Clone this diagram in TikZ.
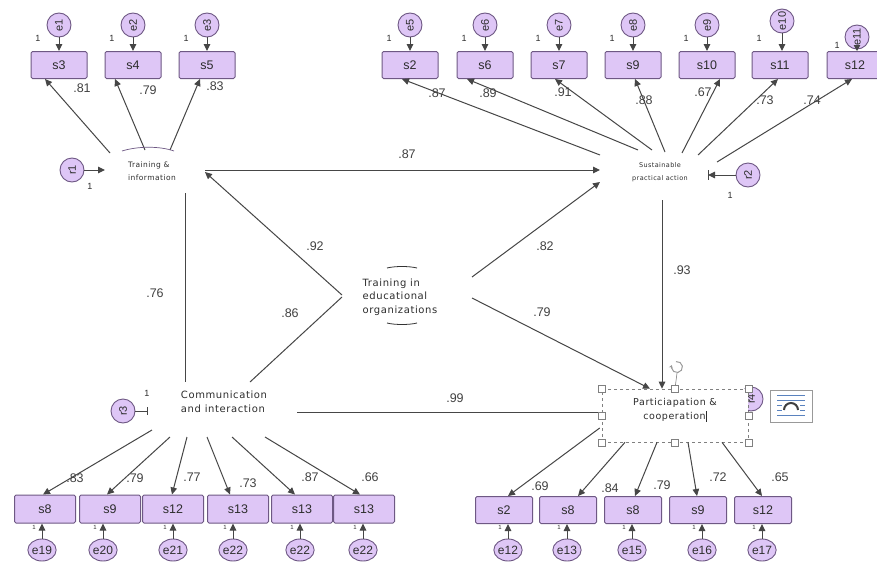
\documentclass[tikz,border=0pt]{standalone}
\usepackage{fontspec}
\usepackage{graphicx}
\setmainfont{Liberation Sans}
\newfontfamily\latfont[LetterSpace=6]{DejaVu Sans}
\usetikzlibrary{arrows.meta,calc,shapes.geometric}
\definecolor{boxfill}{RGB}{222,198,246}
\definecolor{boxline}{RGB}{110,88,132}
\definecolor{lin}{RGB}{70,70,70}
\definecolor{txt}{RGB}{45,45,45}
\definecolor{iconblue}{RGB}{90,130,190}
\begin{document}
\begin{tikzpicture}[x=1pt,y=-1pt,
 obs/.style={draw=boxline, fill=boxfill, line width=1pt, rounded corners=1.5pt, minimum width=56pt, minimum height=27pt, inner sep=0pt, font=\fontsize{12.5}{12.5}\selectfont, text=txt},
 obsb/.style={obs, minimum width=61pt, minimum height=28pt},
 obsc/.style={obs, minimum width=57pt},
 err/.style={draw=boxline, fill=boxfill, line width=0.9pt, circle, minimum size=24pt, inner sep=0pt, font=\fontsize{11}{11}\selectfont, text=txt},
 errb/.style={draw=boxline, fill=boxfill, line width=0.9pt, ellipse, minimum width=28pt, minimum height=22pt, inner sep=0pt, font=\fontsize{12}{12}\selectfont, text=txt},
 lat/.style={inner sep=0pt, text=txt},
 coef/.style={font=\fontsize{12.5}{12.5}\selectfont, text=txt!90, inner sep=0pt},
 one/.style={font=\fontsize{9}{9}\selectfont, text=txt, inner sep=0pt},
 tiny1/.style={font=\fontsize{6}{6}\selectfont, text=txt, inner sep=0pt},
 path/.style={draw=lin, line width=1pt},
 arr/.style={path, -{Triangle[length=7pt,width=6.5pt]}},
 handle/.style={draw=gray, fill=white, line width=0.5pt, minimum size=7pt, inner sep=0pt, rectangle},
]
\useasboundingbox (0,0) rectangle (877,562);
\clip (0,0) rectangle (877,562);
\fill[white] (0,0) rectangle (877,562);

% ---------- latent variables ----------
\node[lat, align=left, font=\latfont\fontsize{7.5}{13}\selectfont] (TI) at (152,171) {Training \&\\information};
\node[lat, align=center, font=\latfont\fontsize{6.5}{13}\selectfont] (SP) at (660,172) {Sustainable\\practical action};
\node[lat, align=left, font=\latfont\fontsize{10}{13.5}\selectfont] (TEO) at (400,297) {Training in\\educational\\organizations};
\node[lat, align=left, font=\latfont\fontsize{10}{14}\selectfont] (Comm) at (224,402) {Communication\\and interaction};

% r4 behind the selected box
\node[err] (r4) at (751,399) {\rotatebox{90}{r4}};
\node[draw=gray, dashed, line width=0.6pt, fill=white, minimum width=146pt, minimum height=53pt, inner sep=0pt] (PC) at (675,415.5) {};
\node[lat, align=center, font=\latfont\fontsize{9.5}{14}\selectfont] (PCt) at (675,410) {Particiapation \&\\cooperation\rule[-2pt]{0.9pt}{11pt}};

% ---------- top-left indicators ----------
\foreach \n/\x/\l/\e in {s3/59/s3/e1, s4/133/s4/e2, s5/207/s5/e3}{
  \node[obs] (\n) at (\x,65) {\l};
  \node[err] (\e) at (\x,25) {\rotatebox{90}{\e}};
  \draw[arr] (\e) -- (\n);
  \node[one] (one\e) at (\x-21,38) {1};
}
% ---------- top-right indicators ----------
\foreach \n/\x/\l/\e in {t2/410/s2/e5, t6/485/s6/e6, t7/559/s7/e7, t9/633/s9/e8, t10/707/s10/e9, t11/780/s11/e10, t12/855/s12/e11}{
  \node[obs] (\n) at (\x,65) {\l};
}
\foreach \n/\x/\y/\e in {t2/410/25/e5, t6/485/25/e6, t7/559/25/e7, t9/633/25/e8, t10/707/25/e9, t11/782/21/e10}{
  \node[err] (\e) at (\x,\y) {\rotatebox{90}{\e}};
  \draw[arr] (\e) -- (\e |- \n.north);
}
\foreach \x/\e in {389/e5, 464/e6, 538/e7, 612/e8, 686/e9, 759/e10}{
  \node[one] (one\e) at (\x,38) {1};
}
\node[err] (e11) at (857,37) {\rotatebox{90}{e11}};
\draw[path, -{Triangle[length=6pt,width=6.5pt]}] (e11.south) -- (e11 |- t12.north);
\node[one] (onee11) at (837,45) {1};

% ---------- bottom-left indicators ----------
\foreach \n/\x/\l/\e/\ex/\en in {b1/45/s8/e19/42/e19, b2/110/s9/e20/103/e20, b3/173/s12/e21/173/e21, b4/238/s13/e22a/233/e22, b5/302/s13/e22b/300/e22, b6/364/s13/e22c/363/e22}{
  \node[obsb] (\n) at (\x,509) {\l};
  \node[errb] (\e) at (\ex,550) {\en};
  \draw[arr] (\e) -- (\e |- \n.south);
  \node[tiny1] (one\e) at (\ex-8,527) {1};
}
% ---------- bottom-right indicators ----------
\foreach \n/\x/\l/\e/\ex in {c1/504/s2/e12/508, c2/568/s8/e13/567, c3/633/s8/e15/632, c4/698/s9/e16/702, c5/763/s12/e17/762}{
  \node[obsc] (\n) at (\x,510) {\l};
  \node[errb] (\e) at (\ex,550) {\e};
  \draw[arr] (\e) -- (\e |- \n.south);
  \node[tiny1] (one\e) at (\ex-8,527) {1};
}

% ---------- residuals ----------
\node[err] (r1) at (72,170) {\rotatebox{90}{r1}};
\draw[arr] (r1) -- ($(TI)+(-47,-1)$);
\node[one] (oner1) at (90,186) {1};
\node[err] (r2) at (748,175) {\rotatebox{90}{r2}};
\draw[arr] (r2) -- ($(SP)+(48,3)$);
\draw[path] ($(SP)+(48,-2)$) -- ($(SP)+(48,8)$);
\node[one] (oner2) at (730,195) {1};
\node[err] (r3) at (123,411) {\rotatebox{90}{r3}};
\draw[path, -{Bar[width=8pt]}] (r3) -- ($(Comm)+(-76,9)$);
\node[one] (oner3) at (147,393) {1};

% ---------- TI loadings ----------
\draw[arr] ($(TI)+(-42,-18)$) -- ($(s3.south)+(-14,0)$);
\draw[arr] ($(TI)+(-7,-21)$) -- ($(s4.south)+(-18,0)$);
\draw[arr] ($(TI)+(18,-21)$) -- ($(s5.south)+(-7,0)$);
\draw[boxline, line width=0.7pt] ($(TI)+(-30,-20)$) .. controls ($(TI)+(-14,-25)$) and ($(TI)+(8,-25)$) .. ($(TI)+(22,-20)$);
\node[coef] (l81) at (82,88) {.81};
\node[coef] (l79a) at (148,90) {.79};
\node[coef] (l83a) at (215,86) {.83};

% ---------- SP loadings ----------
\draw[arr] ($(SP)+(-60,-17)$) -- ($(t2.south)+(-8,0)$);
\draw[arr] ($(SP)+(-22,-22)$) -- ($(t6.south)+(-18,0)$);
\draw[arr] ($(SP)+(-8,-22)$) -- ($(t7.south)+(-4,0)$);
\draw[arr] ($(SP)+(5,-20)$) -- ($(t9.south)+(2,0)$);
\draw[arr] ($(SP)+(22,-19)$) -- ($(t10.south)+(13,0)$);
\draw[arr] ($(SP)+(38,-17)$) -- ($(t11.south)+(-2,0)$);
\draw[arr] ($(SP)+(57,-10)$) -- ($(t12.south)+(-3,0)$);
\node[coef] (l87a) at (437,93) {.87};
\node[coef] (l89) at (488,93) {.89};
\node[coef] (l91) at (563,92) {.91};
\node[coef] (l88) at (644,100) {.88};
\node[coef] (l67) at (703,92) {.67};
\node[coef] (l73a) at (765,100) {.73};
\node[coef] (l74) at (812,100) {.74};

% ---------- structural paths ----------
\draw[arr] ($(TI)+(53,-1)$) -- ($(SP)+(-60,-2)$);
\node[coef] (p87) at (407,154) {.87};
\draw[arr] ($(TEO)+(-58,-2)$) -- ($(TI)+(53,1)$);
\node[coef] (p92) at (315,246) {.92};
\draw[path] ($(TEO)+(-58,0)$) -- ($(Comm)+(26,-20)$);
\node[coef] (p86) at (290,313) {.86};
\draw[arr] ($(TEO)+(72,-20)$) -- ($(SP)+(-60,10)$);
\node[coef] (p82) at (545,246) {.82};
\draw[arr] ($(TEO)+(72,1)$) -- ($(PC.north)+(-25,0)$);
\node[coef] (p79) at (542,312) {.79};
\draw[path] ($(TI)+(33,22)$) -- ($(Comm)+(-39,-20)$);
\node[coef] (p76) at (155,293) {.76};
\draw[arr] ($(SP)+(2,28)$) -- ($(PC.north)+(-13,0)$);
\node[coef] (p93) at (682,270) {.93};
\draw[path] ($(Comm)+(73,10)$) -- ($(PC.west)+(0,-3.5)$);
\node[coef] (p99) at (455,398) {.99};
\draw[black!80, line width=0.8pt] ($(TEO)+(-13,-29)$) .. controls ($(TEO)+(-5,-31)$) and ($(TEO)+(9,-31)$) .. ($(TEO)+(17,-29)$);
\draw[black!80, line width=0.8pt] ($(TEO)+(-13,26)$) .. controls ($(TEO)+(-5,28)$) and ($(TEO)+(9,28)$) .. ($(TEO)+(17,26)$);

% ---------- Communication loadings ----------
\draw[arr] ($(Comm)+(-72,28)$) -- ($(b1.north)+(-2,0)$);
\draw[arr] ($(Comm)+(-54,35)$) -- ($(b2.north)+(-3,0)$);
\draw[arr] ($(Comm)+(-37,35)$) -- ($(b3.north)+(-1,0)$);
\draw[arr] ($(Comm)+(-17,35)$) -- ($(b4.north)+(-8,0)$);
\draw[arr] ($(Comm)+(8,35)$) -- ($(b5.north)+(-7,0)$);
\draw[arr] ($(Comm)+(41,35)$) -- ($(b6.north)+(-4,0)$);
\node[coef] (m83) at (75,478) {.83};
\node[coef] (m79) at (135,478) {.79};
\node[coef] (m77) at (192,477) {.77};
\node[coef] (m73) at (248,483) {.73};
\node[coef] (m87) at (310,477) {.87};
\node[coef] (m66) at (370,477) {.66};

% ---------- Participation loadings ----------
\draw[arr] ($(PC.west)+(-2,12.5)$) -- ($(c1.north)+(4,0)$);
\draw[arr] ($(PC.south)+(-50,0)$) -- ($(c2.north)+(10,0)$);
\draw[arr] ($(PC.south)+(-18,0)$) -- ($(c3.north)+(2,0)$);
\draw[arr] ($(PC.south)+(13,0)$) -- ($(c4.north)+(-1,0)$);
\draw[arr] ($(PC.south)+(47,0)$) -- ($(c5.north)+(-1,0)$);
\node[coef] (n69) at (540,486) {.69};
\node[coef] (n84) at (610,488) {.84};
\node[coef] (n79) at (662,485) {.79};
\node[coef] (n72) at (718,477) {.72};
\node[coef] (n65) at (780,477) {.65};

% ---------- selection handles ----------
\node[handle] (h1) at (PC.north west) {};
\node[handle] (h2) at (PC.north) {};
\node[handle] (h3) at (PC.north east) {};
\node[handle] (h4) at (PC.west) {};
\node[handle] (h5) at (PC.east) {};
\node[handle] (h6) at (PC.south west) {};
\node[handle] (h7) at (PC.south) {};
\node[handle] (h8) at (PC.south east) {};
\coordinate (rot) at (677,367);
\draw[gray, line width=0.6pt] (h2) -- ($(rot)+(0,6)$);
\draw[gray!80, line width=1pt, -{Stealth[length=3pt,width=4pt]}] ($(rot)+(-1,-5.4)$) arc[start angle=100, end angle=-200, radius=5.5pt];

% ---------- layout icon ----------
\node[draw=gray!80, fill=white, line width=0.6pt, minimum width=42pt, minimum height=32pt, inner sep=0pt] (icon) at (791,406) {};
\foreach \yy in {-11,-6}{
  \draw[iconblue, line width=0.7pt] ($(icon)+(-14,\yy)$) -- ($(icon)+(14,\yy)$);
}
\foreach \yy in {-1,4}{
  \draw[iconblue, line width=0.7pt] ($(icon)+(-14,\yy)$) -- ($(icon)+(-9,\yy)$);
  \draw[iconblue, line width=0.7pt] ($(icon)+(9,\yy)$) -- ($(icon)+(14,\yy)$);
}
\draw[iconblue, line width=0.7pt] ($(icon)+(-14,9)$) -- ($(icon)+(14,9)$);
\draw[black!75, line width=2pt] ($(icon)+(-7,4)$) arc[start angle=180, end angle=0, radius=7pt];
\end{tikzpicture}
\end{document}
